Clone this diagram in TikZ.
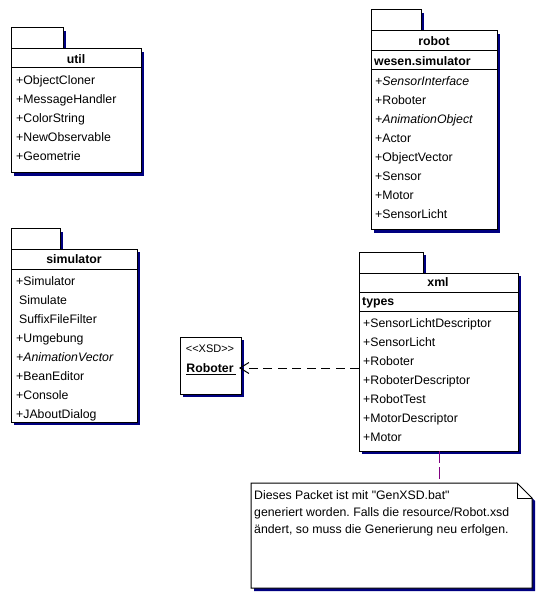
\documentclass[tikz,border=0pt]{standalone}
\usepackage{fontspec}
\setmainfont{Liberation Sans}[Ligatures=TeXOff]
\frenchspacing
\usetikzlibrary{shadows,arrows.meta}
\definecolor{navyc}{RGB}{0,0,128}
\definecolor{purplec}{RGB}{128,0,128}
\tikzset{
  box/.style={draw=black, fill=white, line width=1pt, inner sep=0pt, outer sep=0pt,
    anchor=north west,
    drop shadow={shadow xshift=3pt, shadow yshift=-3pt, fill=navyc, opacity=1}},
  item/.style={anchor=base west, inner sep=0pt, font=\fontsize{12.3}{14}\selectfont},
  ttl/.style={anchor=base, inner sep=0pt, font=\fontsize{12.3}{14}\selectfont\bfseries},
  sub/.style={anchor=base west, inner sep=0pt, font=\fontsize{12.3}{14}\selectfont\bfseries},
  sep/.style={line width=1pt},
  depline/.style={line width=1pt, dash pattern=on 9pt off 5.5pt},
}
\begin{document}
\begin{tikzpicture}[x=1pt,y=-1pt]
\useasboundingbox (0,0) rectangle (544,601);

% ---------- util ----------
\node[box, minimum width=52pt, minimum height=21pt] (utiltab) at (11,28) {};
\node[box, minimum width=130pt, minimum height=124pt] (util) at (11,49) {};
\draw[sep] ([yshift=-19pt]util.north west) -- ([yshift=-19pt]util.north east);
\node[ttl] (utilt) at (76,63.5) {util};
\foreach \t [count=\i from 0] in {+ObjectCloner,+MessageHandler,+ColorString,+NewObservable,+Geometrie}
  \node[item] (utili\i) at (16,84.5+19*\i) {\t};

% ---------- robot ----------
\node[box, minimum width=50pt, minimum height=21pt] (robottab) at (371,10) {};
\node[box, minimum width=126pt, minimum height=199pt] (robot) at (371,31) {};
\draw[sep] ([yshift=-20pt]robot.north west) -- ([yshift=-20pt]robot.north east);
\draw[sep] ([yshift=-39pt]robot.north west) -- ([yshift=-39pt]robot.north east);
\node[ttl] (robott) at (434,45.5) {robot};
\node[sub] (robots) at (374,65.5) {wesen.simulator};
\foreach \t [count=\i from 0] in {\textit{+SensorInterface},+Roboter,\textit{+AnimationObject},+Actor,+ObjectVector,+Sensor,+Motor,+SensorLicht}
  \node[item] (roboti\i) at (375,85.5+19*\i) {\t};

% ---------- simulator ----------
\node[box, minimum width=49pt, minimum height=20pt] (simtab) at (11,229) {};
\node[box, minimum width=126pt, minimum height=173pt] (sim) at (11,249) {};
\draw[sep] ([yshift=-20pt]sim.north west) -- ([yshift=-20pt]sim.north east);
\node[ttl] (simt) at (74,263.5) {simulator};
\node[item] (simi0) at (16,285.5) {+Simulator};
\node[item] (simi1) at (19,304.5) {Simulate};
\node[item] (simi2) at (19,323.5) {SuffixFileFilter};
\foreach \t [count=\i from 3] in {+Umgebung,\textit{+AnimationVector},+BeanEditor,+Console,+JAboutDialog}
  \node[item] (simi\i) at (16,285.5+19*\i) {\t};

% ---------- xml ----------
\node[box, minimum width=64pt, minimum height=21pt] (xmltab) at (359,252) {};
\node[box, minimum width=159pt, minimum height=178pt] (xml) at (359,273) {};
\draw[sep] ([yshift=-19pt]xml.north west) -- ([yshift=-19pt]xml.north east);
\draw[sep] ([yshift=-38pt]xml.north west) -- ([yshift=-38pt]xml.north east);
\node[ttl] (xmlt) at (438,286.5) {xml};
\node[sub] (xmls) at (362,305.5) {types};
\foreach \t [count=\i from 0] in {+SensorLichtDescriptor,+SensorLicht,+Roboter,+RoboterDescriptor,+RobotTest,+MotorDescriptor,+Motor}
  \node[item] (xmli\i) at (363,327.5+19*\i) {\t};

% ---------- Roboter (XSD) ----------
\node[box, minimum width=61pt, minimum height=57pt] (xsd) at (180,337) {};
\node[anchor=base, inner sep=0pt, font=\fontsize{11}{12}\selectfont] (xsds) at (210,352.5) {<<XSD>>};
\node[anchor=base, inner sep=0pt, font=\fontsize{12.3}{14}\selectfont\bfseries] (xsdn) at (211,372.5) {\underline{Roboter\,}};

% dependency
\coordinate (ay) at (0,368);
\draw[depline, -{Straight Barb[length=9pt,width=11pt,line width=1pt]}, shorten >=-2pt]
  (xml.west |- ay) -- (xsd.east |- ay);

% ---------- note ----------
\node[inner sep=0pt, outer sep=0pt, anchor=north west, minimum width=281pt, minimum height=105pt] (note) at (251,483) {};
\fill[navyc] ([shift={(3pt,-3pt)}]note.north west) -- ([shift={(-12pt,-3pt)}]note.north east)
  -- ([shift={(3pt,-18pt)}]note.north east) -- ([shift={(3pt,-3pt)}]note.south east)
  -- ([shift={(3pt,-3pt)}]note.south west) -- cycle;
\draw[line width=1pt, fill=white] (note.north west) -- ([xshift=-15pt]note.north east)
  -- ([yshift=-15pt]note.north east) -- (note.south east) -- (note.south west) -- cycle;
\draw[line width=1pt] ([xshift=-15pt]note.north east) -- ([shift={(-15pt,-15pt)}]note.north east)
  -- ([yshift=-15pt]note.north east);
\node[item] (notel1) at (254,499.5) {Dieses Packet ist mit "GenXSD.bat"};
\node[item] (notel2) at (254,516.5) {generiert worden. Falls die resource/Robot.xsd};
\node[item] (notel3) at (254,533.5) {ändert, so muss die Generierung neu erfolgen.};

% note link
\coordinate (lx) at (439,0);
\draw[line width=1pt, purplec, dash pattern=on 12pt off 4pt] (xml.south -| lx) -- (note.north -| lx);
\end{tikzpicture}
\end{document}
